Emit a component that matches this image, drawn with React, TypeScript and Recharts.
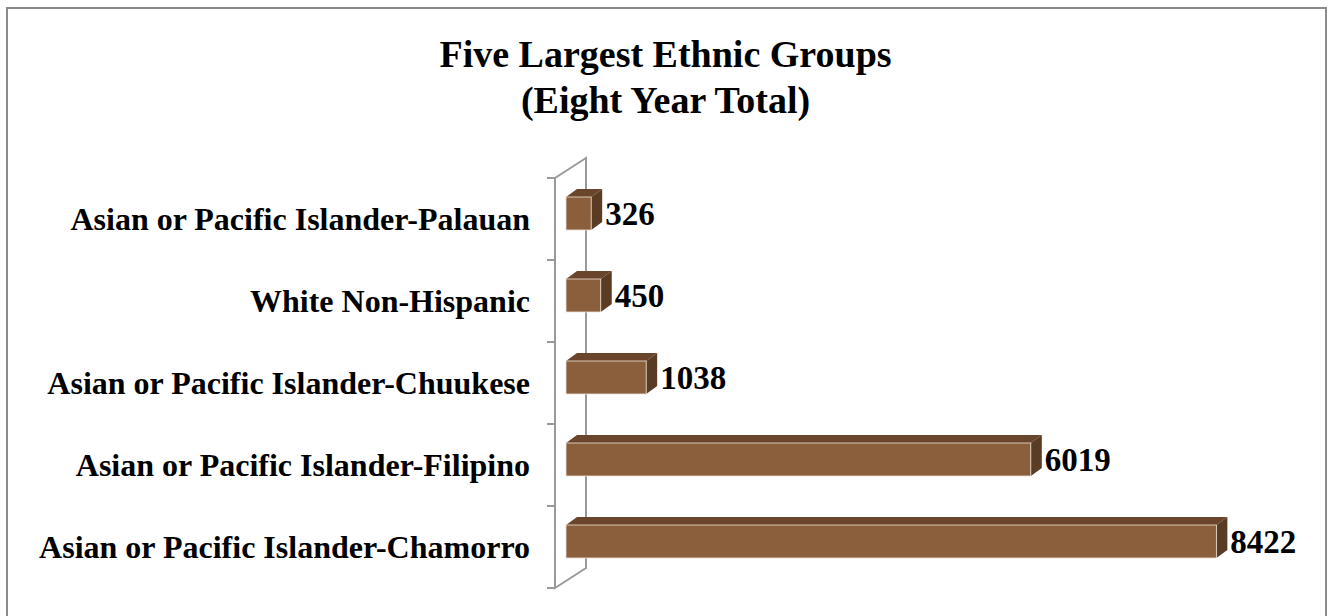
import React from 'react';
import { BarChart, Bar, XAxis, YAxis, LabelList } from 'recharts';

const categories = [
  'Asian or Pacific Islander-Palauan',
  'White Non-Hispanic',
  'Asian or Pacific Islander-Chuukese',
  'Asian or Pacific Islander-Filipino',
  'Asian or Pacific Islander-Chamorro',
];
const totals = [326, 450, 1038, 6019, 8422];

const data = categories.map((name, i) => ({ name, value: totals[i] }));

const W = 1331;
const H = 616;
const MARGIN = { top: 172, right: 70, bottom: 34, left: 0 };
const AXIS_W = 566;
const FONT = "'Liberation Serif', 'Times New Roman', serif";

const FRONT = '#8B5E3C';
const TOP = '#6A452C';
const SIDE = '#5A3B23';
const DX = 11;
const DY = 8;

const Bar3D = (props: any) => {
  const { x, y, width, height } = props;
  if (width <= 0) return null;
  const r = x + width;
  return (
    <g>
      <polygon
        points={`${x},${y} ${x + DX},${y - DY} ${r + DX},${y - DY} ${r},${y}`}
        fill={TOP}
      />
      <polygon
        points={`${r},${y} ${r + DX},${y - DY} ${r + DX},${y + height - DY} ${r},${y + height}`}
        fill={SIDE}
      />
      <rect x={x} y={y} width={width} height={height} fill={FRONT} stroke="#efe4d8" strokeWidth={0.8} />
    </g>
  );
};

const CategoryTick = (props: any) => {
  const { y, payload } = props;
  return (
    <text
      x={530}
      y={y + 6}
      textAnchor="end"
      dominantBaseline="central"
      fontFamily={FONT}
      fontWeight="bold"
      fontSize={32}
      fill="#000"
    >
      {payload.value}
    </text>
  );
};

const ValueLabel = (props: any) => {
  const { x, y, width, height, value } = props;
  return (
    <text
      x={x + width + DX + 3}
      y={y + height / 2}
      dominantBaseline="central"
      fontFamily={FONT}
      fontWeight="bold"
      fontSize={33}
      fill="#000"
    >
      {value}
    </text>
  );
};

// grey 3D wall behind the category axis
const Wall = () => {
  const band = (H - MARGIN.top - MARGIN.bottom) / categories.length;
  const fx = 555;
  const bx = 586;
  const top = MARGIN.top + 6;
  const bottom = top + band * categories.length;
  const ticks = categories.map((_, i) => top + band * i).concat([bottom]);
  return (
    <g stroke="#9a9a9a" strokeWidth={2} fill="none">
      <polyline points={`${fx},${top} ${bx},${top - 20} ${bx},${bottom - 20} ${fx},${bottom} ${fx},${top}`} />
      {ticks.map((t, i) => (
        <line key={i} x1={fx - 8} x2={fx} y1={t} y2={t} />
      ))}
    </g>
  );
};

export default function App() {
  return (
    <div style={{ position: 'absolute', left: 0, top: 0, width: W, height: H, background: '#fff', overflow: 'hidden' }}>
      <div
        style={{
          position: 'absolute',
          left: 6,
          top: 7,
          width: 1321,
          height: 620,
          border: '2px solid #8a8a8a',
          borderBottom: 'none',
          boxSizing: 'border-box',
        }}
      />
      <div
        style={{
          position: 'absolute',
          left: 0,
          top: 31,
          width: W,
          textAlign: 'center',
          fontFamily: FONT,
          fontWeight: 'bold',
          fontSize: 38,
          lineHeight: '46px',
        }}
      >
        Five Largest Ethnic Groups
        <br />
        (Eight Year Total)
      </div>
      <div style={{ position: 'absolute', left: 0, top: 0 }}>
        <BarChart width={W} height={H} data={data} layout="vertical" margin={MARGIN}>
          <Wall />
          <XAxis type="number" domain={[0, 9000]} hide />
          <YAxis
            type="category"
            dataKey="name"
            width={AXIS_W}
            axisLine={false}
            tickLine={false}
            tick={<CategoryTick />}
            interval={0}
          />
          <Bar dataKey="value" barSize={33} shape={<Bar3D />} isAnimationActive={false}>
            <LabelList dataKey="value" content={<ValueLabel />} />
          </Bar>
        </BarChart>
      </div>
    </div>
  );
}
